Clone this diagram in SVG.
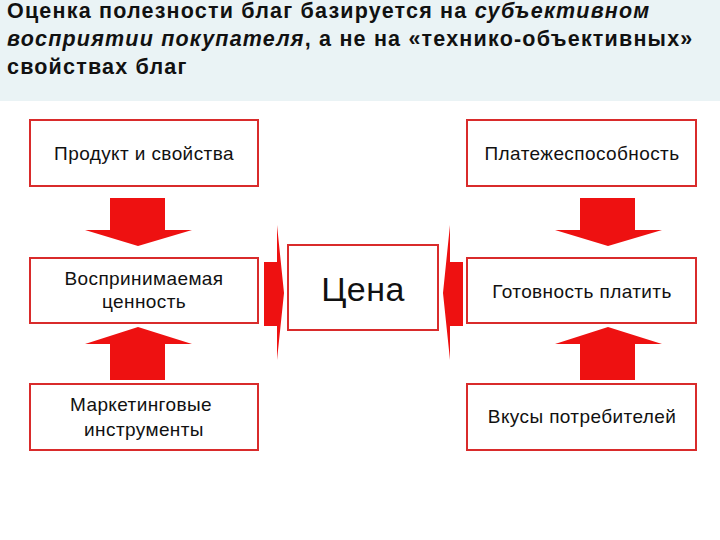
<svg xmlns="http://www.w3.org/2000/svg" width="720" height="540" viewBox="0 0 720 540">
<style>
.b{fill:#fff;stroke:#d92b2b;stroke-width:2}
.t{font-family:"Liberation Sans",Arial,sans-serif;font-size:19px;letter-spacing:0.4px;fill:#111;text-anchor:middle}
.h{font-family:"Liberation Sans",Arial,sans-serif;font-size:21.5px;letter-spacing:1.2px;font-weight:bold;fill:#111}
.a{fill:#ee1111}
</style>
<rect x="0" y="0" width="720" height="540" fill="#fff"/>
<rect x="0" y="0" width="720" height="101" fill="#eaf3f5"/>
<text class="h" x="7" y="18">Оценка полезности благ базируется на <tspan font-style="italic">субъективном</tspan></text>
<text class="h" x="7" y="46"><tspan font-style="italic">восприятии покупателя</tspan>, а не на «технико-объективных»</text>
<text class="h" x="7" y="74">свойствах благ</text>
<g id="connectors">
<polygon class="a" points="110,198 165,198 165,230 192,230 138,246 85,230 110,230"/>
<polygon class="a" points="580,198 635,198 635,230 662,230 608,246 555,230 580,230"/>
<polygon class="a" points="110,380 165,380 165,344 192,344 138,327 85,344 110,344"/>
<polygon class="a" points="580,380 635,380 635,344 662,344 608,327 555,344 580,344"/>
<polygon class="a" points="264,262 277,262 277,225 284,293 277,360 277,326 264,326"/>
<polygon class="a" points="463,262 450,262 450,225 443,293 450,360 450,326 463,326"/>
</g>
<g id="n1"><rect class="b" x="30" y="120" width="228" height="66"/><text class="t" x="144" y="160">Продукт и свойства</text></g>
<g id="n2"><rect class="b" x="467" y="120" width="229" height="66"/><text class="t" x="582" y="160">Платежеспособность</text></g>
<g id="n3"><rect class="b" x="30" y="258" width="228" height="65"/><text class="t" x="144" y="285">Воспринимаемая</text><text class="t" x="144" y="308">ценность</text></g>
<g id="n4"><rect class="b" x="288" y="245" width="150" height="85"/><text class="t" x="363" y="301" style="font-size:34px;letter-spacing:0.5px">Цена</text></g>
<g id="n5"><rect class="b" x="467" y="258" width="229" height="65"/><text class="t" x="582" y="298">Готовность платить</text></g>
<g id="n6"><rect class="b" x="30" y="384" width="228" height="66"/><text class="t" x="141" y="411">Маркетинговые</text><text class="t" x="144" y="436">инструменты</text></g>
<g id="n7"><rect class="b" x="467" y="384" width="229" height="66"/><text class="t" x="582" y="423">Вкусы потребителей</text></g>
</svg>
